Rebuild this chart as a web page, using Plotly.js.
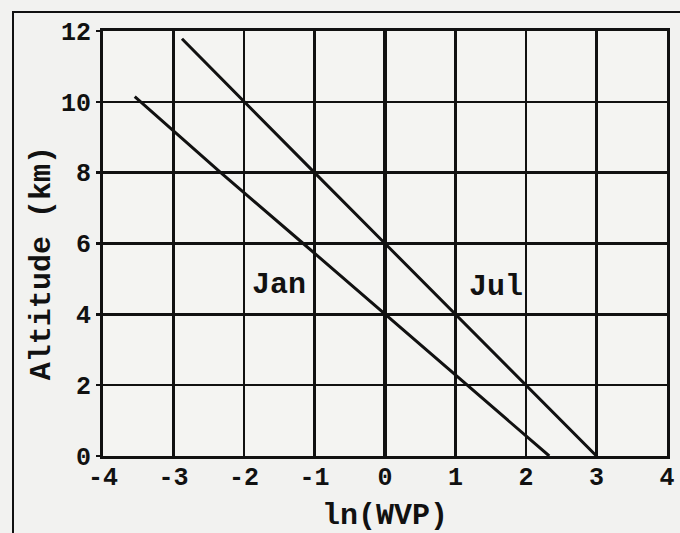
<!DOCTYPE html>
<html><head><meta charset="utf-8">
<script src="https://cdn.plot.ly/plotly-3.0.1.min.js"></script>
<style>
html,body{margin:0;padding:0;background:#f2f2f0;}
#frame{position:absolute;left:12px;top:11px;width:680px;height:540px;border-left:2px solid #111;border-top:2px solid #111;}
#chart{position:absolute;left:0;top:0;width:680px;height:533px;}
</style>
</head><body>
<div id="frame"></div>
<div id="chart"></div>
<script>
const janX = [-3.55, -2.33, -1.16, 0, 1.0, 2.33];
const janY = [10.15, 8, 6, 4, 2.28, 0];
const julX = [-2.88, -2, -1, 0, 1, 2, 3];
const julY = [11.78, 10, 8, 6, 4, 2, 0];
const xTicks = [-4, -3, -2, -1, 0, 1, 2, 3, 4];
const yTicks = [0, 2, 4, 6, 8, 10, 12];
const labels = [{text: 'Jan', x: -1.5, y: 4.83}, {text: 'Jul', x: 1.57, y: 4.77}];
const yTitle = 'Altitude (km)';

const font = {family: '"Liberation Mono", "DejaVu Sans Mono", monospace', color: '#111', weight: 'bold'};
const f = s => Object.assign({size: s}, font);
const traces = [
  {x: janX, y: janY, mode: 'lines', line: {color: '#111', width: 3}, showlegend: false, hoverinfo: 'skip'},
  {x: julX, y: julY, mode: 'lines', line: {color: '#111', width: 3}, showlegend: false, hoverinfo: 'skip'}
];
const annotations = labels.map(l => ({x: l.x, y: l.y, text: l.text, showarrow: false, xref: 'x', yref: 'y',
    font: f(30), bgcolor: '#f4f4f2'}));
annotations.push({x: -0.108, y: 0.454, xref: 'paper', yref: 'paper', text: yTitle, textangle: -90,
  showarrow: false, xanchor: 'center', yanchor: 'middle', font: f(30)});
const layout = {
  width: 680, height: 533,
  paper_bgcolor: 'rgba(0,0,0,0)', plot_bgcolor: '#f4f4f2',
  margin: {l: 103, r: 13, t: 31, b: 77},
  showlegend: false,
  xaxis: {
    range: [-4, 4], tickvals: xTicks, ticktext: xTicks.map(v => v < 0 ? '-' + Math.abs(v) : String(v)),
    showgrid: true, gridcolor: '#111', gridwidth: 2.5,
    zeroline: true, zerolinecolor: '#111', zerolinewidth: 4,
    showline: true, linecolor: '#111', linewidth: 3, mirror: true,
    ticks: '', tickfont: f(25), automargin: false, ticklabelstandoff: -4,
    title: {text: 'ln(WVP)', font: f(30), standoff: 11}
  },
  yaxis: {
    range: [0, 12], tickvals: yTicks,
    showgrid: true, gridcolor: '#111', gridwidth: 2.5,
    zeroline: false,
    showline: true, linecolor: '#111', linewidth: 3, mirror: true,
    ticks: 'outside', ticklen: 4, tickwidth: 2.5, tickcolor: '#111',
    tickfont: f(25), automargin: false
  },
  annotations: annotations
};
Plotly.newPlot('chart', traces, layout, {displayModeBar: false, staticPlot: true});
</script>
</body></html>
